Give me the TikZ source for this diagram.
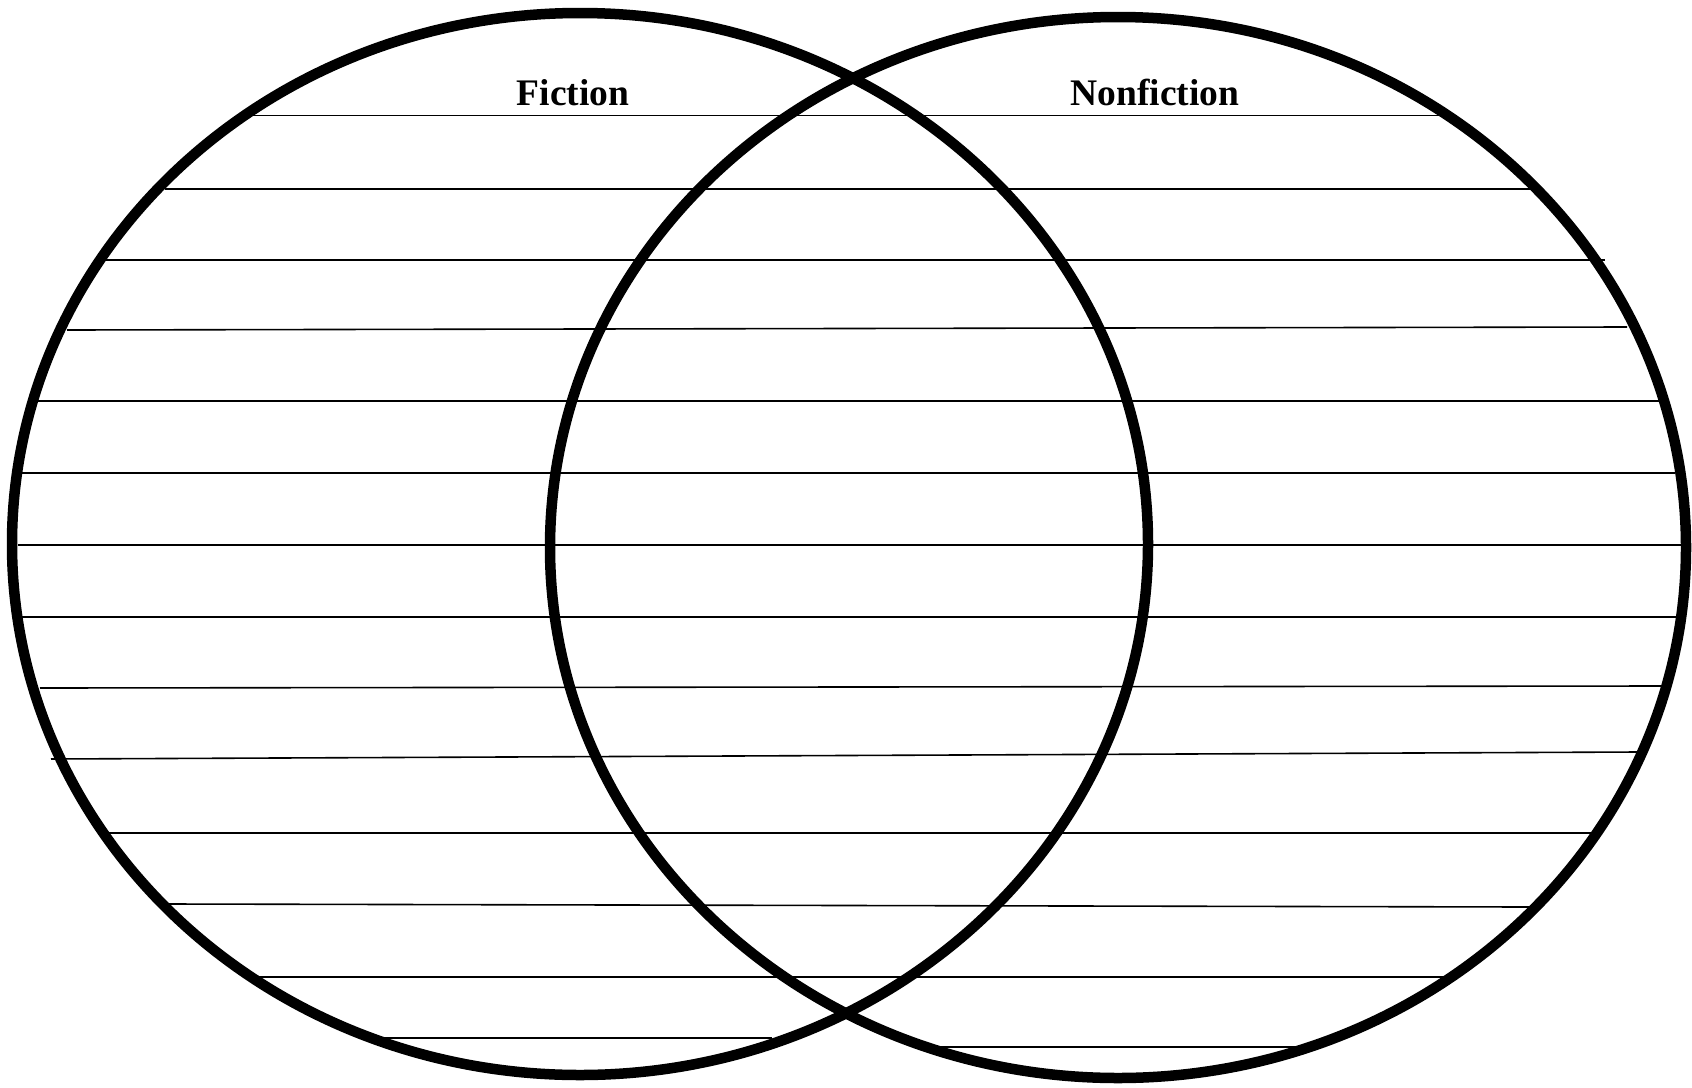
\documentclass[tikz,border=0pt]{standalone}
\usepackage{fontspec}
\setmainfont{Liberation Serif}
\begin{document}
\begin{tikzpicture}[x=1pt,y=-1pt,
  rule/.style={line width=1.6pt,black},
  ring/.style={line width=10.5pt,black},
  label/.style={anchor=base,inner sep=0pt,font=\fontsize{37.5}{40}\selectfont\bfseries}]
\useasboundingbox (0,0) rectangle (1692,1087);
\fill[white] (0,0) rectangle (1692,1087);
% writing lines
\draw[rule] (250,115.5) -- (1441,115.5);
\draw[rule] (165,189) -- (1530,189);
\draw[rule] (106,260) -- (1605,260);
\draw[rule] (67,330) -- (1627,327);
\draw[rule] (38,401) -- (1659,401);
\draw[rule] (22,473) -- (1675,473);
\draw[rule] (18,545) -- (1681,545);
\draw[rule] (22,617) -- (1676,617);
\draw[rule] (40,688) -- (1662,686);
\draw[rule] (51,759) -- (1638,752);
\draw[rule] (108,833) -- (1595,833);
\draw[rule] (169,904) -- (1530,907);
\draw[rule] (259,977) -- (1446,977);
\draw[rule] (383,1038) -- (772,1038);
\draw[rule] (939,1047) -- (1295,1047);
% circles
\draw[ring] (580,544) ellipse [x radius=568, y radius=531];
\draw[ring] (1118,547.5) ellipse [x radius=568, y radius=530.5];
% labels
\node[label] (fic) at (573,105) {Fiction};
\node[label] (nonfic) at (1155,105) {Nonfiction};
\end{tikzpicture}
\end{document}
